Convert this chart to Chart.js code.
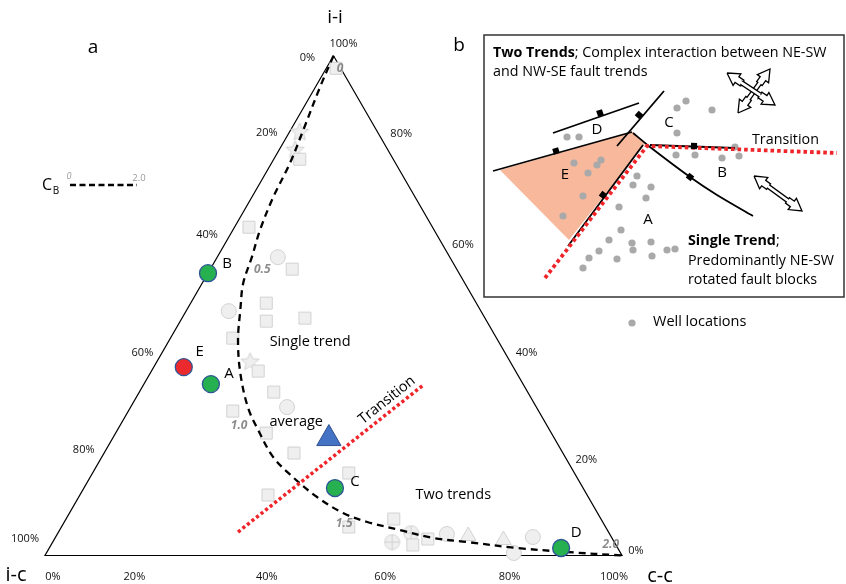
<!DOCTYPE html>
<html>
<head>
<meta charset="utf-8">
<style>
  html, body { margin: 0; padding: 0; background: #fff; }
</style>
<script src="https://cdn.jsdelivr.net/npm/chart.js@4.4.0/dist/chart.umd.min.js"></script>
</head>
<body>
<canvas id="c" width="846" height="584"></canvas>
<script>
"use strict";

// ternary values are [i-i %, c-c %]; i-c is what is left
var TICK_VALUES = [0, 20, 40, 60, 80, 100];
var TICK_LABELS = ['0%', '20%', '40%', '60%', '80%', '100%'];

var CB_CURVE = [
    [100, 0], [93.7, 0.8], [85.1, 2.2], [78.5, 3.2], [71.7, 3.7], [65.1, 4.7],
    [59.7, 6.0], [54.5, 7.1], [49.1, 9.3], [43.1, 11.9], [36.5, 15.6], [29.7, 20.3],
    [25.1, 24.4], [19.7, 29.7], [15.7, 35.1], [11.7, 41.3], [8.5, 47.4], [6.7, 52.5],
    [5.1, 59.0], [3.5, 65.5], [2.7, 71.8], [1.5, 81.1], [0.7, 90.1], [0, 100]
];
var CB_LABELS = ['0', '0.5', '1.0', '1.5', '2.0'];
var CB_LABEL_AT = [[97.5, 2.4], [57.3, 9.0], [26.1, 20.6], [6.3, 48.7], [2.1, 97.0]];

var GREY_SQUARES = [
    [97.5, 1.7], [79.3, 4.5], [65.7, 2.5], [57.3, 14.2], [50.5, 13.1], [46.9, 14.9],
    [47.5, 21.3], [43.5, 10.8], [36.9, 18.5], [32.7, 23.3], [28.9, 18.1], [24.5, 26.1],
    [20.5, 32.9], [16.5, 44.4], [12.1, 32.6], [7.3, 56.8], [5.7, 49.8], [2.1, 62.7], [3.3, 64.7]
];
var GREY_CIRCLES = [[59.7, 10.5], [48.9, 7.4], [29.7, 27.1], [4.3, 67.5], [0.5, 81.0], [3.7, 82.7]];
var GREY_STARS = [[84.7, 1.8], [81.1, 2.8], [38.7, 16.2]];
var GREY_TRIANGLES = [[3.9, 71.4], [3.1, 77.9]];
var GREY_CROSSED = [[2.7, 58.8], [4.5, 61.2]];

var WELL_NAMES = ['A', 'B', 'C', 'D', 'E'];
var WELL_VALUES = [[34.3, 11.6], [56.5, 0], [13.5, 43.5], [1.5, 88.7], [37.7, 5.2]];
var AVERAGE = [23.4, 37.5];
var TRANSITION_LINE = [[4.7, 31.1], [34.1, 48.5]];

// panel b, map units measured from the box's top-left corner
var MAP_WELLS = [
    [202, 66], [193, 73], [228, 75], [193, 98],
    [83, 102], [95, 102],
    [192, 120], [211, 120], [238, 123], [255, 121], [251, 112],
    [90, 128], [117, 125], [113, 130], [104, 138], [99, 161], [79, 181],
    [153, 141], [149, 150], [167, 152], [162, 163], [135, 172], [137, 195], [125, 205],
    [115, 216], [105, 223], [99, 233], [148, 208], [149, 215], [167, 207], [168, 221],
    [133, 224], [183, 215], [191, 214]
];
var MAP_FAULTS = [
    [[69, 98], [155, 68]],
    [[9, 136], [148, 97]],
    [[133, 111], [180, 56]],
    [[159, 110], [84, 211]],
    [[149, 98], [166, 112], [206, 142], [233, 160], [269, 181]],
    [[166, 110], [251, 113]]
];
var MAP_FAULT_TICKS = [[116, 78], [155, 80], [72, 116], [119, 160], [210, 111], [206, 142]];
var MAP_TICK_ANGLE = [-19, -49, -16, -53, 2, 37];
var MAP_BLOCK_E = [[16, 135], [149, 97], [161, 109], [85, 205], [16, 135]];
var MAP_TRANSITION = [[61, 243], [163, 111], [353, 118]];
var MAP_ARROWS = [
    [[254, 78], [286, 34]],
    [[243, 38], [291, 70]],
    [[270, 141], [318, 176]]
];

var FONT = '"Open Sans", "Liberation Sans", sans-serif';
var SQ3 = Math.sqrt(3) / 2;
var GREY_FILL = '#efefef';
var GREY_EDGE = '#d2d2d2';

function tern(ii, cc) {
    var i = ii / 100, c = cc / 100;
    return { x: c + i / 2, y: i * SQ3 };
}

function ternList(list) {
    return list.map(function(p) { return tern(p[0], p[1]); });
}

function mapList(list) {
    return list.map(function(p) { return { x: p[0], y: p[1] }; });
}

// outline of a two-headed arrow with a small step behind each head
function doubleArrow(p, q) {
    var hl = 12, hh = 7, s1 = 3.4, st = 6, s2 = 2;
    var dx = q[0] - p[0], dy = q[1] - p[1];
    var len = Math.sqrt(dx * dx + dy * dy);
    var ux = dx / len, uy = dy / len, nx = -uy, ny = ux;
    function pt(b, along, side) {
        return { x: b[0] + ux * along + nx * side, y: b[1] + uy * along + ny * side };
    }
    return [
        pt(p, 0, 0), pt(p, hl, hh), pt(p, hl, s1), pt(p, hl + st, s1), pt(p, hl + st, s2),
        pt(q, -hl - st, s2), pt(q, -hl - st, s1), pt(q, -hl, s1), pt(q, -hl, hh), pt(q, 0, 0),
        pt(q, -hl, -hh), pt(q, -hl, -s1), pt(q, -hl - st, -s1), pt(q, -hl - st, -s2),
        pt(p, hl + st, -s2), pt(p, hl + st, -s1), pt(p, hl, -s1), pt(p, hl, -hh), pt(p, 0, 0)
    ];
}

// filled five point star, Chart.js' own 'star' is only an asterisk
function starImage(r) {
    var c = document.createElement('canvas');
    c.width = c.height = Math.ceil(r * 2 + 2);
    var g = c.getContext('2d');
    var m = c.width / 2;
    g.beginPath();
    for (var k = 0; k < 10; k++) {
        var rad = k % 2 === 0 ? r : r * 0.45;
        var a = -Math.PI / 2 + k * Math.PI / 5;
        g.lineTo(m + rad * Math.cos(a), m + rad * Math.sin(a));
    }
    g.closePath();
    g.fillStyle = GREY_FILL;
    g.fill();
    g.strokeStyle = GREY_EDGE;
    g.lineWidth = 1;
    g.stroke();
    return c;
}

function crossedCircleImage(r) {
    var c = document.createElement('canvas');
    c.width = c.height = Math.ceil(r * 2 + 2);
    var g = c.getContext('2d');
    var m = c.width / 2;
    g.beginPath();
    g.arc(m, m, r, 0, Math.PI * 2);
    g.fillStyle = GREY_FILL;
    g.fill();
    g.strokeStyle = GREY_EDGE;
    g.lineWidth = 1;
    g.stroke();
    g.beginPath();
    g.moveTo(m - r, m);
    g.lineTo(m + r, m);
    g.moveTo(m, m - r);
    g.lineTo(m, m + r);
    g.stroke();
    return c;
}

var datasets = [];

function markers(data, style, radius, order) {
    datasets.push({
        type: 'scatter',
        data: ternList(data),
        pointStyle: style,
        pointRadius: radius,
        backgroundColor: GREY_FILL,
        borderColor: GREY_EDGE,
        borderWidth: 1,
        order: order,
        clip: false
    });
}

function mapLine(points, opts) {
    var ds = {
        type: 'line',
        data: points,
        xAxisID: 'xb',
        yAxisID: 'yb',
        pointRadius: 0,
        tension: 0,
        fill: false,
        clip: false
    };
    Object.keys(opts).forEach(function(k) { ds[k] = opts[k]; });
    datasets.push(ds);
}

// wells and the average
WELL_VALUES.forEach(function(v, i) {
    datasets.push({
        type: 'scatter',
        data: [tern(v[0], v[1])],
        pointStyle: 'circle',
        pointRadius: 8.5,
        backgroundColor: WELL_NAMES[i] === 'E' ? '#ec2a2e' : '#27b04f',
        borderColor: '#2f5597',
        borderWidth: 1.3,
        order: 1,
        clip: false
    });
});
datasets.push({
    type: 'scatter',
    data: [tern(AVERAGE[0], AVERAGE[1])],
    pointStyle: 'triangle',
    pointRadius: 14,
    backgroundColor: '#4472c4',
    borderColor: '#2f528f',
    borderWidth: 1,
    order: 1,
    clip: false
});

datasets.push({
    type: 'line',
    data: ternList(TRANSITION_LINE),
    borderColor: '#f0252a',
    borderWidth: 3.5,
    borderDash: [3.2, 2.6],
    borderCapStyle: 'butt',
    pointRadius: 0,
    fill: false,
    order: 2,
    clip: false
});

datasets.push({
    type: 'line',
    data: ternList(CB_CURVE),
    borderColor: '#000',
    borderWidth: 2.3,
    borderDash: [7, 5],
    tension: 0.35,
    pointRadius: 0,
    fill: false,
    order: 3,
    clip: false
});

markers(GREY_SQUARES, 'rect', 8.5, 5);
markers(GREY_CIRCLES, 'circle', 7.5, 5);
markers(GREY_STARS, starImage(9.5), 9.5, 5);
markers(GREY_TRIANGLES, 'triangle', 9, 5);
markers(GREY_CROSSED, crossedCircleImage(7.5), 7.5, 5);

// triangle frame
datasets.push({
    type: 'line',
    data: ternList([[100, 0], [0, 0], [0, 100], [100, 0]]),
    borderColor: '#000',
    borderWidth: 1.2,
    pointRadius: 0,
    fill: false,
    order: 6,
    clip: false
});

// panel b
mapLine(mapList(MAP_BLOCK_E), { backgroundColor: '#f8b89c', borderWidth: 0, borderColor: 'rgba(0,0,0,0)', fill: 'shape', order: 20 });
datasets.push({
    type: 'scatter',
    data: mapList(MAP_WELLS),
    xAxisID: 'xb',
    yAxisID: 'yb',
    pointRadius: 3.6,
    backgroundColor: '#a9a9a9',
    borderWidth: 0,
    order: 19,
    clip: false
});
MAP_FAULTS.forEach(function(f) {
    mapLine(mapList(f), { borderColor: '#000', borderWidth: 1.8, tension: 0.3, order: 18 });
});
mapLine(mapList(MAP_TRANSITION), { borderColor: '#f0252a', borderWidth: 3.8, borderDash: [3.6, 3], borderCapStyle: 'butt', order: 17 });
datasets.push({
    type: 'scatter',
    data: mapList(MAP_FAULT_TICKS),
    xAxisID: 'xb',
    yAxisID: 'yb',
    pointStyle: 'rect',
    pointRadius: 4.3,
    rotation: MAP_TICK_ANGLE,
    backgroundColor: '#000',
    borderWidth: 0,
    order: 16,
    clip: false
});
MAP_ARROWS.forEach(function(a, i) {
    mapLine(doubleArrow(a[0], a[1]), {
        borderColor: '#000', borderWidth: 1.3, backgroundColor: '#fff', fill: 'shape', order: 15 - i
    });
});

var LEFT_NUDGE = [[-26, 2], [-9, -23], [-11, -21], [-18, -3], [-19, -6], [-20, -17]];
var RIGHT_NUDGE = [[14, -5], [22, 4], [20, -3], [14, -11], [10, -22], [10, -12]];
var BOTTOM_NUDGE = [[8, 21], [-26, 21], [-9, 21], [-6, 21], [3, 21], [-8, 21]];

var textPlugin = {
    id: 'texts',
    afterDatasetsDraw: function(chart) {
        var ctx = chart.ctx;
        var sx = chart.scales.x, sy = chart.scales.y, bx = chart.scales.xb, by = chart.scales.yb;
        function tp(ii, cc) {
            var p = tern(ii, cc);
            return [sx.getPixelForValue(p.x), sy.getPixelForValue(p.y)];
        }
        function mp(x, y) {
            return [bx.getPixelForValue(x), by.getPixelForValue(y)];
        }
        function txt(s, x, y, size, opts) {
            opts = opts || {};
            ctx.save();
            ctx.font = (opts.style || '') + ' ' + (opts.weight || 'normal') + ' ' + size + 'px ' + FONT;
            ctx.fillStyle = opts.color || '#000';
            ctx.textAlign = opts.align || 'center';
            ctx.textBaseline = 'middle';
            if (opts.rotate) {
                ctx.translate(x, y);
                ctx.rotate(opts.rotate * Math.PI / 180);
                ctx.fillText(s, 0, 0);
            } else {
                ctx.fillText(s, x, y);
            }
            ctx.restore();
        }

        // tick labels
        TICK_VALUES.forEach(function(v, k) {
            var l = tp(100 - v, 0), r = tp(v, 100 - v), b = tp(0, v);
            txt(TICK_LABELS[k], l[0] + LEFT_NUDGE[k][0], l[1] + LEFT_NUDGE[k][1], 11, { color: '#111' });
            txt(TICK_LABELS[k], r[0] + RIGHT_NUDGE[k][0], r[1] + RIGHT_NUDGE[k][1], 11, { color: '#111' });
            txt(TICK_LABELS[k], b[0] + BOTTOM_NUDGE[k][0], b[1] + BOTTOM_NUDGE[k][1], 11, { color: '#111' });
        });

        // corner names and panel letters
        txt('i-i', 335, 18, 19);
        txt('i-c', 16, 575, 20);
        txt('c-c', 660, 576, 20);
        txt('a', 93, 48, 19);
        txt('b', 459, 46, 19);

        // C_B legend
        txt('C', 47, 185, 16);
        txt('B', 56, 191, 10);
        ctx.save();
        ctx.strokeStyle = '#000';
        ctx.lineWidth = 2.5;
        ctx.setLineDash([6, 3.5]);
        ctx.beginPath();
        ctx.moveTo(70, 185);
        ctx.lineTo(137, 185);
        ctx.stroke();
        ctx.restore();
        txt('0', 69, 176, 9, { color: '#999', style: 'italic' });
        txt('2.0', 139, 178, 9.5, { color: '#999' });

        // curve values
        CB_LABELS.forEach(function(s, i) {
            var p = tp(CB_LABEL_AT[i][0], CB_LABEL_AT[i][1]);
            txt(s, p[0], p[1], 12, { color: 'rgba(120,120,120,0.85)', style: 'italic', weight: 'bold' });
        });

        // well names
        var wellNudge = { A: [18, -10], B: [19, -9], C: [20, -6], D: [15, -15], E: [16, -15] };
        WELL_VALUES.forEach(function(v, i) {
            var p = tp(v[0], v[1]);
            var n = wellNudge[WELL_NAMES[i]];
            txt(WELL_NAMES[i], p[0] + n[0], p[1] + n[1], 15);
        });

        var p = tp(42.7, 24.6);
        txt('Single trend', p[0], p[1], 14.5);
        p = tp(26.7, 30.2);
        txt('average', p[0], p[1], 14.5);
        p = tp(12.1, 64.7);
        txt('Two trends', p[0], p[1], 14.5);
        p = tp(31.1, 43.7);
        txt('Transition', p[0], p[1], 14.5, { rotate: -38.5 });

        // panel b box and text
        var tl = mp(0, 0), br = mp(360, 262);
        ctx.save();
        ctx.strokeStyle = '#333';
        ctx.lineWidth = 1.5;
        ctx.strokeRect(tl[0], tl[1], br[0] - tl[0], br[1] - tl[1]);
        ctx.restore();

        function rich(parts, x, y, size) {
            ctx.save();
            parts.forEach(function(part) {
                ctx.font = (part[1] ? 'bold ' : 'normal ') + size + 'px ' + FONT;
                ctx.fillStyle = '#000';
                ctx.textAlign = 'left';
                ctx.textBaseline = 'middle';
                ctx.fillText(part[0], x, y);
                x += ctx.measureText(part[0]).width;
            });
            ctx.restore();
        }
        var q = mp(9, 18);
        rich([['Two Trends', true], ['; Complex interaction between NE-SW', false]], q[0], q[1], 14.3);
        q = mp(9, 37);
        rich([['and NW-SE fault trends', false]], q[0], q[1], 14.3);
        q = mp(204, 206);
        rich([['Single Trend', true], [';', false]], q[0], q[1], 14.3);
        q = mp(204, 226);
        rich([['Predominantly NE-SW', false]], q[0], q[1], 14.3);
        q = mp(204, 245);
        rich([['rotated fault blocks', false]], q[0], q[1], 14.3);
        q = mp(268, 105);
        rich([['Transition', false]], q[0], q[1], 14.3);

        var mapLetters = [['D', 113, 95], ['C', 185, 88], ['E', 81, 140], ['B', 238, 138], ['A', 164, 185]];
        mapLetters.forEach(function(m) {
            var r = mp(m[1], m[2]);
            txt(m[0], r[0], r[1], 15);
        });

        // well legend under the box
        var w = mp(148, 288);
        ctx.save();
        ctx.fillStyle = '#a9a9a9';
        ctx.beginPath();
        ctx.arc(w[0], w[1], 3.6, 0, Math.PI * 2);
        ctx.fill();
        ctx.restore();
        rich([['Well locations', false]], w[0] + 21, w[1] - 1, 14.5);
    }
};

new Chart(document.getElementById('c'), {
    type: 'scatter',
    data: { datasets: datasets },
    options: {
        responsive: false,
        animation: false,
        devicePixelRatio: 1,
        events: [],
        layout: { padding: 0, autoPadding: false },
        plugins: {
            legend: { display: false },
            tooltip: { enabled: false }
        },
        scales: {
            x: { type: 'linear', display: false, min: -45 / 577, max: 801 / 577 },
            y: { type: 'linear', display: false, min: -28.5 / 577, max: 555.5 / 577 },
            xb: { type: 'linear', axis: 'x', display: false, min: -484, max: 362 },
            yb: { type: 'linear', axis: 'y', display: false, min: -35, max: 549, reverse: true }
        }
    },
    plugins: [textPlugin]
});
</script>
</body>
</html>
